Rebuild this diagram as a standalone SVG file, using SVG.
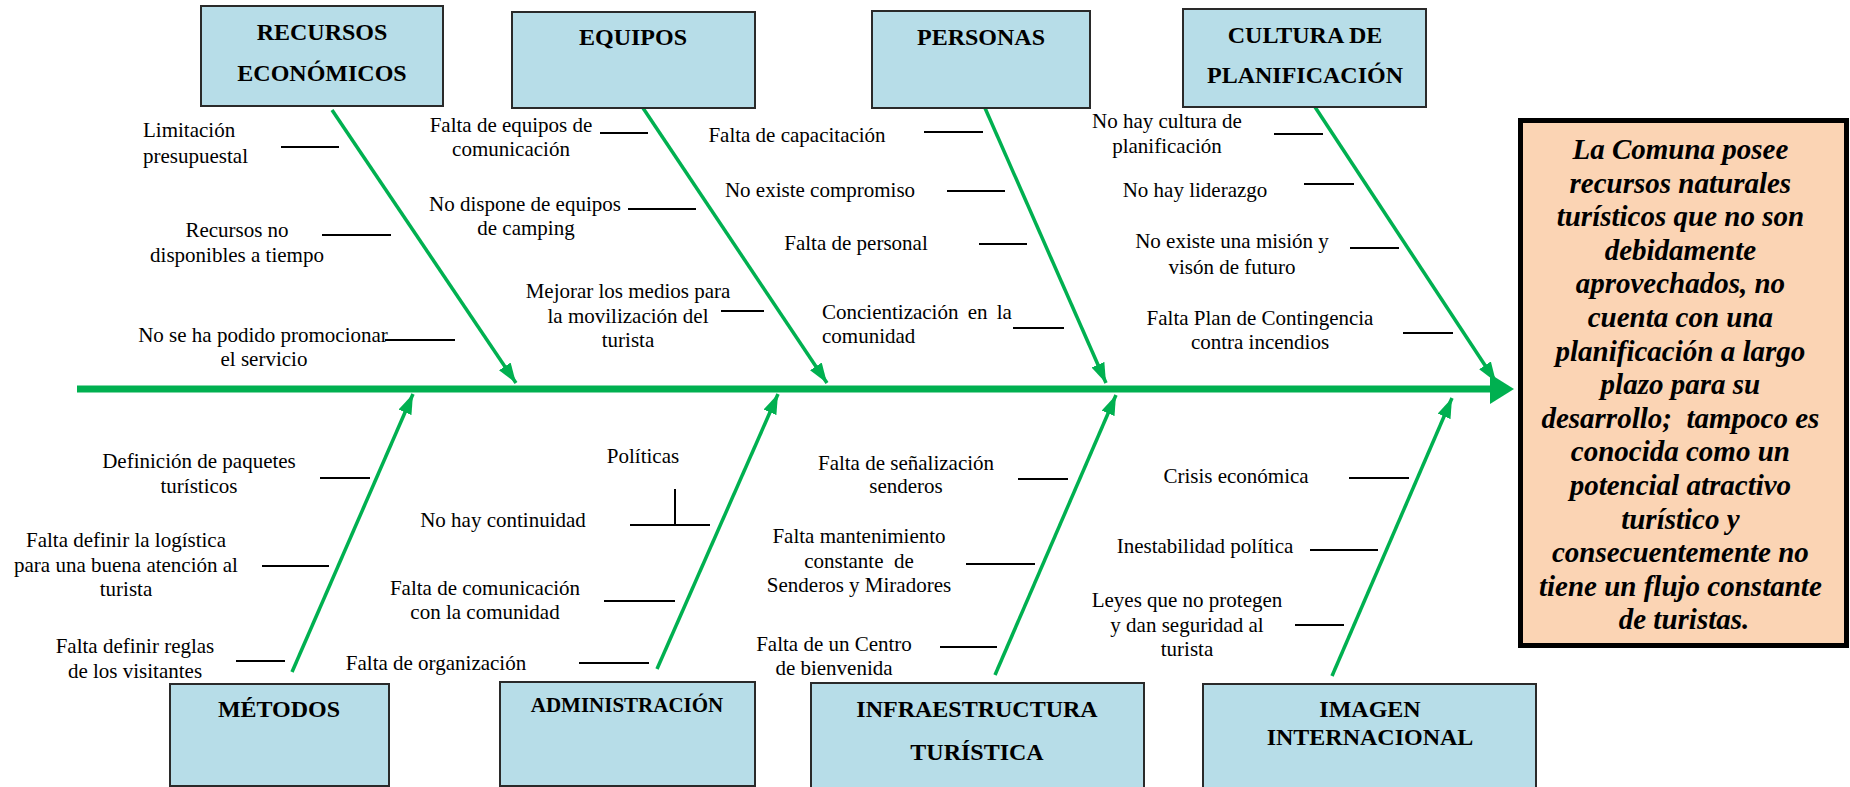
<svg xmlns="http://www.w3.org/2000/svg" width="1850" height="787" viewBox="0 0 1850 787">
<style>
.box{fill:#b7dde8;stroke:#2a2a2a;stroke-width:2}
.hd{font-family:"Liberation Serif","Times New Roman",serif;font-weight:bold;font-size:24px;fill:#000;text-anchor:middle}
.lb{font-family:"Liberation Serif","Times New Roman",serif;font-size:21px;fill:#000;text-anchor:middle}
.st{text-anchor:start}
.tick{stroke:#000;stroke-width:2;fill:none}
.bone{stroke:#00b050;stroke-width:3.5;fill:none;marker-end:url(#ah)}
.eff{font-family:"Liberation Serif","Times New Roman",serif;font-weight:bold;font-style:italic;font-size:29px;fill:#000;text-anchor:middle}
</style>
<defs>
<marker id="ah" markerUnits="userSpaceOnUse" viewBox="0 0 20 14" refX="20" refY="7" markerWidth="20" markerHeight="14" orient="auto">
<path d="M0,0 L20,7 L0,14 z" fill="#00b050"/>
</marker>
</defs>
<rect width="1850" height="787" fill="#fff"/>

<g id="connectors">
<line x1="77" y1="389" x2="1492" y2="389" stroke="#00b050" stroke-width="7"/>
<polygon points="1490,374 1514,389 1490,404" fill="#00b050"/>
<line class="bone" x1="332" y1="110" x2="516" y2="383"/>
<line class="bone" x1="643" y1="108" x2="827" y2="383"/>
<line class="bone" x1="985" y1="108" x2="1106" y2="383"/>
<line class="bone" x1="1315" y1="107" x2="1496" y2="382"/>
<line class="bone" x1="292" y1="672" x2="413" y2="394"/>
<line class="bone" x1="657" y1="669" x2="778" y2="394"/>
<line class="bone" x1="995" y1="675" x2="1116" y2="395"/>
<line class="bone" x1="1332" y1="676" x2="1452" y2="398"/>
</g>

<g id="recursos">
<rect class="box" x="201" y="6" width="242" height="100"/>
<text class="hd" x="322" y="40">RECURSOS</text>
<text class="hd" x="322" y="81">ECONÓMICOS</text>
<text class="lb st" x="143" y="137">Limitación</text>
<text class="lb st" x="143" y="163">presupuestal</text>
<line class="tick" x1="281" y1="147" x2="339" y2="147"/>
<text class="lb" x="237" y="237">Recursos no</text>
<text class="lb" x="237" y="262">disponibles a tiempo</text>
<line class="tick" x1="322" y1="235" x2="391" y2="235"/>
<text class="lb" x="263" y="342">No se ha podido promocionar</text>
<text class="lb" x="264" y="366">el servicio</text>
<line class="tick" x1="385" y1="340" x2="455" y2="340"/>
</g>

<g id="equipos">
<rect class="box" x="512" y="12" width="243" height="96"/>
<text class="hd" x="633" y="45">EQUIPOS</text>
<text class="lb" x="511" y="132">Falta de equipos de</text>
<text class="lb" x="511" y="156">comunicación</text>
<line class="tick" x1="600" y1="133" x2="648" y2="133"/>
<text class="lb" x="525" y="211">No dispone de equipos</text>
<text class="lb" x="526" y="235">de camping</text>
<line class="tick" x1="628" y1="209" x2="696" y2="209"/>
<text class="lb" x="628" y="298">Mejorar los medios para</text>
<text class="lb" x="628" y="323">la movilización del</text>
<text class="lb" x="628" y="347">turista</text>
<line class="tick" x1="721" y1="311" x2="764" y2="311"/>
</g>

<g id="personas">
<rect class="box" x="872" y="11" width="218" height="97"/>
<text class="hd" x="981" y="45">PERSONAS</text>
<text class="lb" x="797" y="142">Falta de capacitación</text>
<line class="tick" x1="924" y1="132" x2="983" y2="132"/>
<text class="lb" x="820" y="197">No existe compromiso</text>
<line class="tick" x1="947" y1="191" x2="1005" y2="191"/>
<text class="lb" x="856" y="250">Falta de personal</text>
<line class="tick" x1="979" y1="244" x2="1027" y2="244"/>
<text class="lb st" x="822" y="319" word-spacing="4">Concientización en la</text>
<text class="lb st" x="822" y="343">comunidad</text>
<line class="tick" x1="1013" y1="328" x2="1064" y2="328"/>
</g>

<g id="cultura">
<rect class="box" x="1183" y="9" width="243" height="98"/>
<text class="hd" x="1305" y="43">CULTURA DE</text>
<text class="hd" x="1305" y="83">PLANIFICACIÓN</text>
<text class="lb" x="1167" y="128">No hay cultura de</text>
<text class="lb" x="1167" y="153">planificación</text>
<line class="tick" x1="1274" y1="134" x2="1323" y2="134"/>
<text class="lb" x="1195" y="197">No hay liderazgo</text>
<line class="tick" x1="1304" y1="184" x2="1354" y2="184"/>
<text class="lb" x="1232" y="248">No existe una misión y</text>
<text class="lb" x="1232" y="274">visón de futuro</text>
<line class="tick" x1="1350" y1="248" x2="1399" y2="248"/>
<text class="lb" x="1260" y="325">Falta Plan de Contingencia</text>
<text class="lb" x="1260" y="349">contra incendios</text>
<line class="tick" x1="1403" y1="333" x2="1453" y2="333"/>
</g>

<g id="metodos">
<rect class="box" x="170" y="684" width="219" height="102"/>
<text class="hd" x="279" y="717">MÉTODOS</text>
<text class="lb" x="199" y="468">Definición de paquetes</text>
<text class="lb" x="199" y="493">turísticos</text>
<line class="tick" x1="320" y1="478" x2="370" y2="478"/>
<text class="lb" x="126" y="547">Falta definir la logística</text>
<text class="lb" x="126" y="572">para una buena atención al</text>
<text class="lb" x="126" y="596">turista</text>
<line class="tick" x1="262" y1="566" x2="329" y2="566"/>
<text class="lb" x="135" y="653">Falta definir reglas</text>
<text class="lb" x="135" y="678">de los visitantes</text>
<line class="tick" x1="236" y1="661" x2="285" y2="661"/>
</g>

<g id="administracion">
<rect class="box" x="500" y="682" width="255" height="104"/>
<text class="hd" x="627" y="712" style="font-size:21px">ADMINISTRACIÓN</text>
<text class="lb" x="643" y="463">Políticas</text>
<line class="tick" x1="675" y1="489" x2="675" y2="525"/>
<line class="tick" x1="630" y1="525" x2="710" y2="525"/>
<text class="lb" x="503" y="527">No hay continuidad</text>
<text class="lb" x="485" y="595">Falta de comunicación</text>
<text class="lb" x="485" y="619">con la comunidad</text>
<line class="tick" x1="604" y1="601" x2="675" y2="601"/>
<text class="lb" x="436" y="670">Falta de organización</text>
<line class="tick" x1="579" y1="663" x2="649" y2="663"/>
</g>

<g id="infraestructura">
<rect class="box" x="811" y="683" width="333" height="108"/>
<text class="hd" x="977" y="717">INFRAESTRUCTURA</text>
<text class="hd" x="977" y="760">TURÍSTICA</text>
<text class="lb" x="906" y="470">Falta de señalización</text>
<text class="lb" x="906" y="493">senderos</text>
<line class="tick" x1="1018" y1="479" x2="1068" y2="479"/>
<text class="lb" x="859" y="543">Falta mantenimiento</text>
<text class="lb" x="859" y="568">constante&#160; de</text>
<text class="lb" x="859" y="592">Senderos y Miradores</text>
<line class="tick" x1="966" y1="564" x2="1035" y2="564"/>
<text class="lb" x="834" y="651">Falta de un Centro</text>
<text class="lb" x="834" y="675">de bienvenida</text>
<line class="tick" x1="940" y1="647" x2="997" y2="647"/>
</g>

<g id="imagen">
<rect class="box" x="1203" y="684" width="333" height="107"/>
<text class="hd" x="1370" y="717">IMAGEN</text>
<text class="hd" x="1370" y="745">INTERNACIONAL</text>
<text class="lb" x="1236" y="483">Crisis económica</text>
<line class="tick" x1="1349" y1="478" x2="1409" y2="478"/>
<text class="lb" x="1205" y="553">Inestabilidad política</text>
<line class="tick" x1="1310" y1="550" x2="1378" y2="550"/>
<text class="lb" x="1187" y="607">Leyes que no protegen</text>
<text class="lb" x="1187" y="632">y dan seguridad al</text>
<text class="lb" x="1187" y="656">turista</text>
<line class="tick" x1="1295" y1="625" x2="1344" y2="625"/>
</g>

<g id="efecto">
<rect x="1520.5" y="120.5" width="326" height="525" fill="#fbd4b4" stroke="#000" stroke-width="5"/>
<text class="eff" x="1684" y="159">
<tspan x="1684" y="159">La Comuna posee</tspan>
<tspan x="1684" dy="33.6">recursos naturales</tspan>
<tspan x="1684" dy="33.6">turísticos que no son</tspan>
<tspan x="1684" dy="33.6">debidamente</tspan>
<tspan x="1684" dy="33.6">aprovechados, no</tspan>
<tspan x="1684" dy="33.6">cuenta con una</tspan>
<tspan x="1684" dy="33.6">planificación a largo</tspan>
<tspan x="1684" dy="33.6">plazo para su</tspan>
<tspan x="1684" dy="33.6">desarrollo;&#160; tampoco es</tspan>
<tspan x="1684" dy="33.6">conocida como un</tspan>
<tspan x="1684" dy="33.6">potencial atractivo</tspan>
<tspan x="1684" dy="33.6">turístico y</tspan>
<tspan x="1684" dy="33.6">consecuentemente no</tspan>
<tspan x="1684" dy="33.6">tiene un flujo constante</tspan>
<tspan x="1684" dy="33.6">de turistas.</tspan>
</text>
</g>
</svg>
